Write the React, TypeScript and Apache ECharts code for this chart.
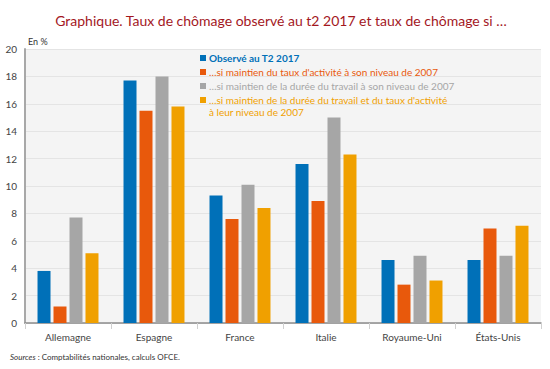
import React, { useEffect, useRef } from "react";
import * as echarts from "echarts";

const categories = ["Allemagne", "Espagne", "France", "Italie", "Royaume-Uni", "États-Unis"];
const seriesNames = [
  "Observé au T2 2017",
  "…si maintien du taux d'activité à son niveau de 2007",
  "…si maintien de la durée du travail à son niveau de 2007",
  "…si maintien de la durée du travail et du taux d'activité\nà leur niveau de 2007",
];
const observed = [3.8, 17.7, 9.3, 11.6, 4.6, 4.6];
const tauxActivite = [1.2, 15.5, 7.6, 8.9, 2.8, 6.9];
const dureeTravail = [7.7, 18.0, 10.1, 15.0, 4.9, 4.9];
const dureeEtTaux = [5.1, 15.8, 8.4, 12.3, 3.1, 7.1];
const colors = ["#0070b8", "#e8590c", "#a6a6a6", "#f0a000"];
const textColors = ["#0070b8", "#e8590c", "#a6a6a6", "#f0a000"];

const FONT = "Lato, 'Noto Sans', sans-serif";

export default function App() {
  const ref = useRef<HTMLDivElement>(null);
  useEffect(() => {
    if (!ref.current) return;
    const chart = echarts.init(ref.current, undefined, { renderer: "svg" });
    const data = [observed, tauxActivite, dureeTravail, dureeEtTaux];
    const legendTop = [58, 72, 86, 100];
    const graphics: any[] = [];
    seriesNames.forEach((n, i) => {
      graphics.push({
        type: "rect",
        left: 200,
        top: legendTop[i] - 3,
        shape: { width: 6, height: 6 },
        style: { fill: colors[i] },
      });
      graphics.push({
        type: "text",
        left: 209,
        top: legendTop[i] - 6,
        style: {
          text: n,
          fill: textColors[i],
          font: `${i === 0 ? "bold " : ""}10px ${FONT}`,
          lineHeight: 12,
        },
      });
    });
    graphics.push({
      type: "text",
      left: 28,
      top: 37,
      style: { text: "En %", fill: "#333", font: `9px ${FONT}` },
    });
    graphics.push({
      type: "text",
      left: 10,
      top: 353,
      style: {
        text: "{i|Sources} : Comptabilités nationales, calculs OFCE.",
        fill: "#333",
        font: `8px ${FONT}`,
        rich: { i: { fontStyle: "italic", fontSize: 8, fontFamily: FONT, fill: "#333" } },
      },
    });
    chart.setOption({
      animation: false,
      backgroundColor: "#ffffff",
      title: {
        text: "Graphique. Taux de chômage observé au t2 2017 et taux de chômage si …",
        left: 276,
        textAlign: "center",
        top: 8,
        textStyle: { color: "#a3171e", fontSize: 14, fontWeight: "normal", fontFamily: FONT },
      },
      grid: {
        left: 25,
        right: 9,
        top: 49,
        bottom: 46,
        show: true,
        backgroundColor: "#f4f4f4",
        borderWidth: 0,
      },
      xAxis: {
        type: "category",
        data: categories,
        axisLine: { lineStyle: { color: "#8c8c8c", width: 1.5 } },
        axisTick: { show: true, length: 6, lineStyle: { color: "#d0d0d0" }, alignWithLabel: false },
        axisLabel: { color: "#444", fontSize: 10, fontFamily: FONT, margin: 9 },
      },
      yAxis: {
        type: "value",
        min: 0,
        max: 20,
        interval: 2,
        axisLine: { show: true, lineStyle: { color: "#a8a8a8", width: 2 } },
        axisTick: { show: false },
        splitLine: { lineStyle: { color: "#e4e4e4", width: 1 } },
        axisLabel: { color: "#444", fontSize: 10, fontFamily: FONT, margin: 8 },
      },
      series: data.map((d, i) => ({
        name: seriesNames[i],
        type: "bar",
        data: d,
        barWidth: 13,
        barGap: "23%",
        itemStyle: { color: colors[i] },
      })),
      graphic: graphics,
    });
    return () => chart.dispose();
  }, []);
  return <div ref={ref} style={{ width: 550, height: 369, position: "absolute", left: 0, top: 0 }} />;
}
